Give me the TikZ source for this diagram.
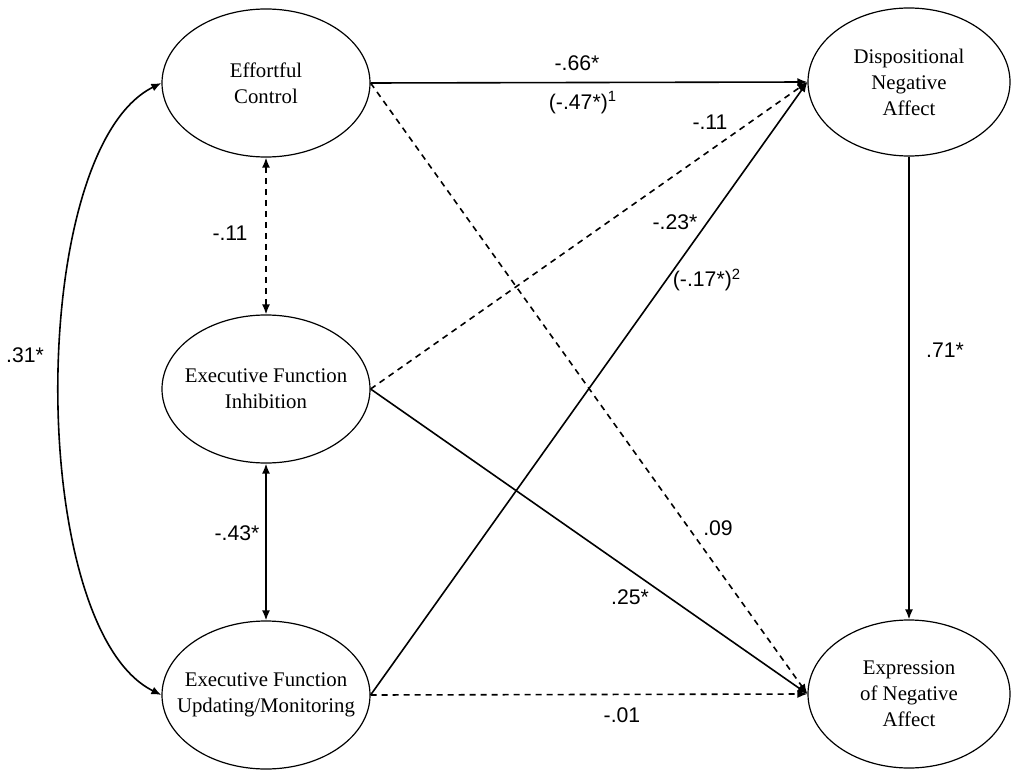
\documentclass[tikz,border=0pt]{standalone}
\usepackage{fontspec}
\setmainfont{Liberation Serif}
\setsansfont{Liberation Sans}
\usetikzlibrary{arrows.meta,shapes.geometric}
\begin{document}
\begin{tikzpicture}[x=0.5pt,y=-0.5pt,
  latent/.style={ellipse, draw, line width=0.6pt, minimum width=104pt, minimum height=74pt, inner sep=0pt},
  ltxt/.style={align=center, inner sep=0pt, font=\fontsize{10.4}{13}\selectfont},
  arr/.style={line width=0.8pt, -{Latex[length=5pt,width=4pt]}},
  cov/.style={line width=0.8pt, {Latex[length=5pt,width=4pt]}-{Latex[length=5pt,width=4pt]}},
  dsh/.style={dash pattern=on 3pt off 2.5pt},
  coef/.style={font=\sffamily\fontsize{10.6}{12}\selectfont, inner sep=0pt}
]
\useasboundingbox (0,0) rectangle (1011,770);

\node[latent, label={[ltxt]center:Effortful\\Control}] (EC) at (266,83) {};
\node[latent, label={[ltxt]center:Executive Function\\Inhibition}] (EFI) at (266,389) {};
\node[latent, label={[ltxt]center:Executive Function\\Updating/Monitoring}] (EFU) at (266,695) {};
\node[latent, minimum width=101pt, label={[ltxt]center:Dispositional\\Negative\\Affect}] (DNA) at (909,82) {};
\node[latent, minimum width=101pt, label={[ltxt]center:Expression\\of Negative\\Affect}] (ENA) at (909,694) {};

% paths
\draw[arr] (EC.east) -- (DNA.west);
\draw[arr,dsh] (EC.east) -- (ENA.west);
\draw[arr,dsh] (EFI.east) -- (DNA.west);
\draw[arr] (EFI.east) -- (ENA.west);
\draw[arr] (EFU.east) -- (DNA.west);
\draw[arr,dsh] (EFU.east) -- (ENA.west);
\draw[arr] (DNA.south) -- (ENA.north);

% covariances
\draw[cov,dsh] (EC.south) -- (EFI.north);
\draw[cov] (EFI.south) -- (EFU.north);
\draw[cov] (EC.west) .. controls (26,150) and (26,628) .. (EFU.west);

% coefficients
\node[coef] (c1) at (577,63) {-.66*};
\node[coef] (c2) at (583,103) {(-.47*)\textsuperscript{1}};
\node[coef] (c3) at (710,122) {-.11};
\node[coef] (c4) at (675,222) {-.23*};
\node[coef] (c5) at (707,280) {(-.17*)\textsuperscript{2}};
\node[coef] (c6) at (230,233) {-.11};
\node[coef] (c7) at (237,533) {-.43*};
\node[coef] (c8) at (25,355) {.31*};
\node[coef] (c9) at (718,528) {.09};
\node[coef] (c10) at (630,597) {.25*};
\node[coef] (c11) at (622,715) {-.01};
\node[coef] (c12) at (945,350) {.71*};
\end{tikzpicture}
\end{document}
